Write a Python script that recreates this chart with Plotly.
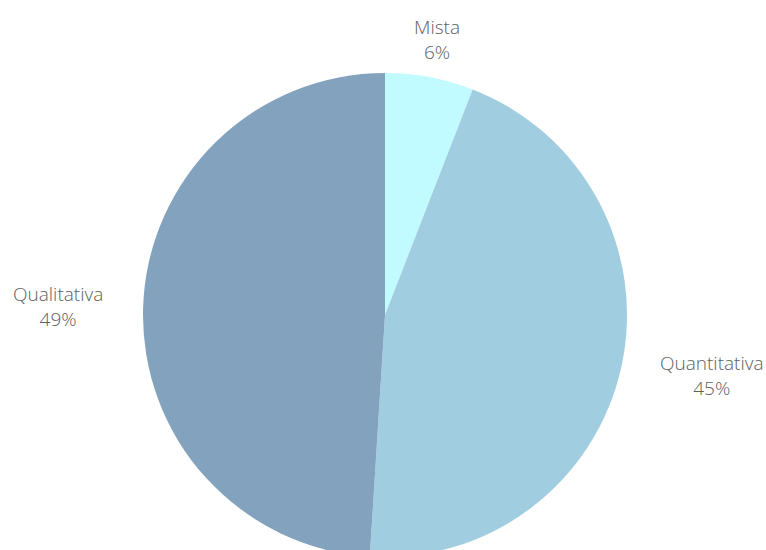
import math
import plotly.graph_objects as go

labels = ["Mista", "Quantitativa", "Qualitativa"]
values = [5.9, 45.1, 49.0]
colors = ["#C1FAFF", "#A0CEE0", "#83A2BD"]

W, H = 766, 557          # figure slightly taller than the 550 window; the pie's bottom is clipped like the reference
top_px = 73
cx_px = 385
r_px = (H - top_px) / 2
cy_px = H - r_px

fig = go.Figure(go.Pie(
    labels=labels,
    values=values,
    marker=dict(colors=colors, line=dict(width=0)),
    sort=False,
    direction="clockwise",
    rotation=0,
    textinfo="none",
    hoverinfo="label+percent",
    domain=dict(x=[(cx_px - r_px) / W, (cx_px + r_px) / W], y=[0, 1 - top_px / H]),
    showlegend=False,
))

total = sum(values)
cum = 0.0
label_r = r_px + 38
for lab, v in zip(labels, values):
    mid = (cum + v / 2) / total * 2 * math.pi
    cum += v
    s, c = math.sin(mid), math.cos(mid)
    x_px = cx_px + label_r * s
    y_px = cy_px - label_r * c
    xanchor = "left" if s > 0.5 else ("right" if s < -0.5 else "center")
    fig.add_annotation(
        x=x_px / W, y=1 - y_px / H, xref="paper", yref="paper",
        text=f"{lab}<br>{round(v / total * 100)}%",
        showarrow=False, xanchor=xanchor, yanchor="middle", align="center",
        font=dict(family="Open Sans", size=19, color="#606060", weight=300),
    )

fig.update_layout(
    width=W, height=H,
    margin=dict(l=0, r=0, t=0, b=0),
    paper_bgcolor="white", plot_bgcolor="white",
)
fig.write_html(
    "out.html",
    config={"displayModeBar": False},
    post_script="document.body.style.margin='0';document.body.style.overflow='hidden';"
                "document.documentElement.style.overflow='hidden';",
)
